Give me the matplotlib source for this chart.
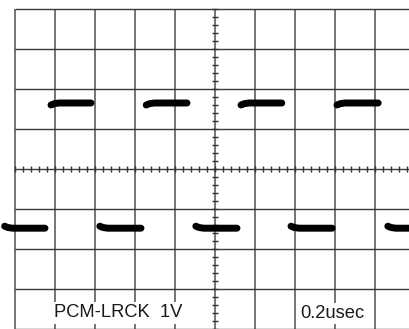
import matplotlib
matplotlib.use("Agg")
import matplotlib.pyplot as plt
import numpy as np

# --- data (graticule divisions; x: 0..10, y: -4..4, centre at x=5, y=0) ---
high_level = 1.65
low_level = -1.48
high_starts = [0.90, 3.28, 5.65, 8.05]
high_ends = [1.90, 4.30, 6.67, 9.08]
low_starts = [-0.26, 2.12, 4.52, 6.90, 9.32]
low_ends = [0.75, 3.15, 5.55, 7.93, 10.3]
hook_depth = 0.05          # start-of-segment hook, in divisions
hook_len = 0.2

x_divs = list(range(0, 11))
y_divs = list(range(-4, 5))
minor_step = 0.2

label_left = "PCM-LRCK  1V"
label_right = "0.2usec"

fig = plt.figure(figsize=(4.10, 3.29), dpi=100)
ax = fig.add_axes([0, 0, 1, 1])
ax.set_xlim(-0.375, 9.875)
ax.set_ylim(-4.0, 4.225)
ax.axis("off")

# graticule
ax.vlines(x_divs, -4.0, 4.0, colors="#6a6a6a", linewidth=1.3, zorder=1)
ax.hlines(y_divs, 0, 10, colors="#3a3a3a", linewidth=1.0, zorder=1)

# minor ticks on centre lines
mx = np.arange(0, 10 + 1e-9, minor_step)
my = np.arange(-4, 4 + 1e-9, minor_step)
ax.vlines(mx, -0.065, 0.065, colors="#333333", linewidth=1.0, zorder=2)
ax.hlines(my, 5 - 0.075, 5 + 0.075, colors="#333333", linewidth=1.0, zorder=2)

# trace
def seg(x0, x1, level, sign):
    xs = [x0, x0 + hook_len * 0.4, x0 + hook_len, x1]
    ys = [level - sign * hook_depth, level - sign * hook_depth * 0.35, level, level]
    return xs, ys

for a, b in zip(high_starts, high_ends):
    xs, ys = seg(a, b, high_level, 1)
    ax.plot(xs, ys, color="black", linewidth=5.0, solid_capstyle="round",
            solid_joinstyle="round", zorder=3)
for a, b in zip(low_starts, low_ends):
    xs, ys = seg(a, b, low_level, -1)
    ax.plot(xs, ys, color="black", linewidth=5.0, solid_capstyle="round",
            solid_joinstyle="round", zorder=3)

# labels
font = dict(family=["Liberation Sans", "DejaVu Sans"], size=13.2, color="#1a1a1a")
box = dict(boxstyle="square,pad=0.12", facecolor="white", edgecolor="none")
ax.text(0.98, -3.71, label_left, ha="left", va="baseline", bbox=box, zorder=4, **font)
ax.text(7.13, -3.72, label_right, ha="left", va="baseline", bbox=box, zorder=4, **font)

fig.savefig("out.png", dpi=100)
